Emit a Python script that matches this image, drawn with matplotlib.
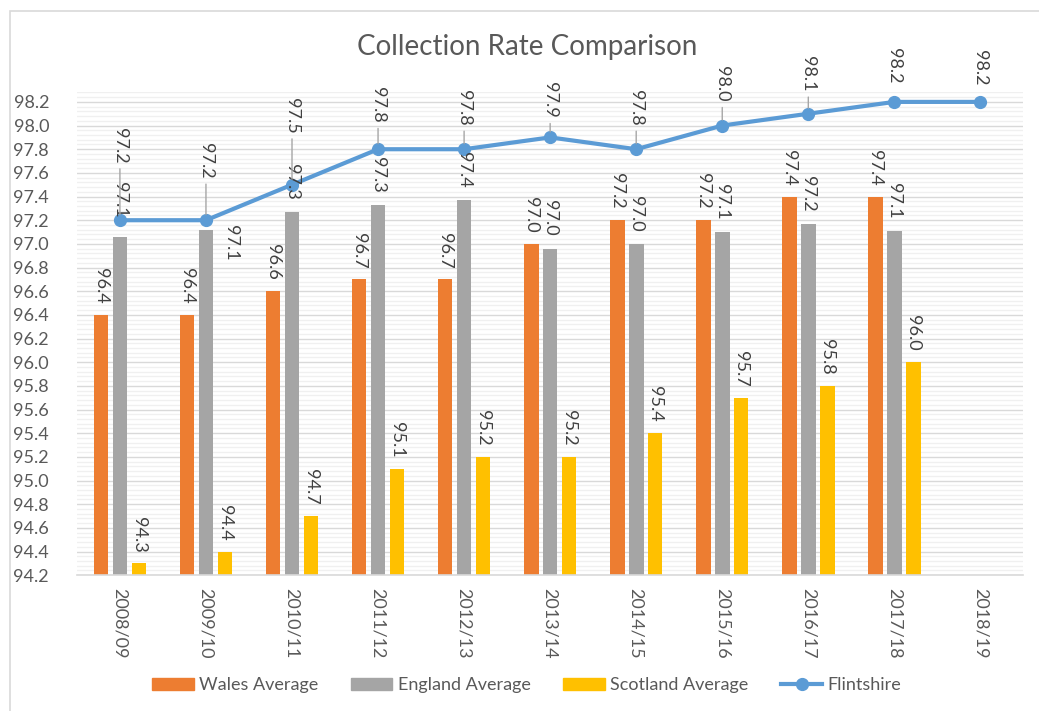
import matplotlib.pyplot as plt
import numpy as np
from matplotlib.lines import Line2D
from matplotlib.patches import Patch, Rectangle

plt.rcParams['font.family'] = ['Lato', 'DejaVu Sans']

years = ['2008/09', '2009/10', '2010/11', '2011/12', '2012/13', '2013/14',
         '2014/15', '2015/16', '2016/17', '2017/18', '2018/19']
wales = [96.4, 96.4, 96.6, 96.7, 96.7, 97.0, 97.2, 97.2, 97.4, 97.4, None]
england = [97.06, 97.12, 97.27, 97.33, 97.37, 96.96, 97.0, 97.1, 97.17, 97.11, None]
scotland = [94.3, 94.4, 94.7, 95.1, 95.2, 95.2, 95.4, 95.7, 95.8, 96.0, None]
flintshire = [97.2, 97.2, 97.5, 97.8, 97.8, 97.9, 97.8, 98.0, 98.1, 98.2, 98.2]

# label offsets (points) - where Excel had the labels dragged around
flint_gap = [41, 30, 37, 19, 17, 14, 17, 17, 16, 13, 12]
eng_off = [(0, 14), (18, -22), (0, 9), (0, 9), (0, 9), (0, 9), (0, 9), (0, 9), (0, 9), (0, 9), (0, 9)]

c_wales = '#ED7D31'
c_eng = '#A5A5A5'
c_scot = '#FFC000'
c_flint = '#5B9BD5'
txt = '#595959'

fig = plt.figure(figsize=(10.39, 7.11), dpi=100)
ax = fig.add_axes([0.074, 0.191, 0.911, 0.679])

x = np.arange(len(years))
w = 0.17
ymin = 94.2

for vals, off, col in [(wales, -0.22, c_wales), (england, 0, c_eng), (scotland, 0.22, c_scot)]:
    xs = [xi + off for xi, v in zip(x, vals) if v is not None]
    vs = [v for v in vals if v is not None]
    ax.bar(xs, [v - ymin for v in vs], w, bottom=ymin, color=col, zorder=2)

ax.plot(x, flintshire, color=c_flint, lw=3, marker='o', ms=8.5, zorder=3, solid_capstyle='round')

for i, v in enumerate(wales):
    if v is None:
        continue
    ax.annotate(f'{v:.1f}', (x[i] - 0.22, v), xytext=(0, 8), textcoords='offset points',
                rotation=-90, ha='center', va='bottom', fontsize=13, color='#404040', zorder=5)
    ax.annotate(f'{scotland[i]:.1f}', (x[i] + 0.22, scotland[i]), xytext=(0, 8), textcoords='offset points',
                rotation=-90, ha='center', va='bottom', fontsize=13, color='#404040', zorder=5)
    dx, dy = eng_off[i]
    ax.annotate(f'{england[i]:.1f}', (x[i], england[i]), xytext=(dx, dy), textcoords='offset points',
                rotation=-90, ha='center', va='bottom', fontsize=13, color='#404040', zorder=5)

for i, v in enumerate(flintshire):
    ap = None
    if flint_gap[i] > 13:
        ap = dict(arrowstyle='-', color='#A6A6A6', lw=1, shrinkA=2, shrinkB=4)
    ax.annotate(f'{v:.1f}', (x[i], v), xytext=(0, flint_gap[i]), textcoords='offset points',
                rotation=-90, ha='center', va='bottom', fontsize=13, color='#404040',
                arrowprops=ap, zorder=5)

ax.set_xlim(-0.5, len(years) - 0.5)
ax.set_ylim(ymin, 98.28)
ax.set_yticks(np.arange(94.2, 98.21, 0.2))
ax.set_yticklabels([f'{t:.1f}' for t in np.arange(94.2, 98.21, 0.2)])
ax.set_yticks(np.arange(94.2, 98.29, 0.04), minor=True)
ax.set_xticks(x)
ax.set_xticklabels(years, rotation=-90)
ax.tick_params(axis='both', length=0, colors=txt, labelsize=13)
ax.tick_params(axis='y', which='minor', length=0)
ax.tick_params(axis='x', pad=9)
ax.tick_params(axis='y', pad=20)
ax.grid(axis='y', which='major', color='#D9D9D9', lw=1, zorder=0)
ax.grid(axis='y', which='minor', color='#F0F0F0', lw=1, zorder=0)
ax.set_axisbelow(True)
for s in ['top', 'right', 'left']:
    ax.spines[s].set_visible(False)
ax.spines['bottom'].set_color('#D9D9D9')
ax.spines['bottom'].set_linewidth(1.2)

fig.text(0.507, 0.934, 'Collection Rate Comparison', ha='center', va='center', fontsize=20, color=txt)

handles = [Patch(color=c_wales), Patch(color=c_eng), Patch(color=c_scot),
           Line2D([], [], color=c_flint, lw=3, marker='o', ms=8.5)]
fig.legend(handles, ['Wales Average', 'England Average', 'Scotland Average', 'Flintshire'],
           loc='center', bbox_to_anchor=(0.507, 0.036), ncol=4, frameon=False,
           fontsize=13, labelcolor=txt, handlelength=2.3, handleheight=0.7,
           handletextpad=0.3, columnspacing=1.8)

fig.patches.append(Rectangle((10 / 1039, -0.01), 1.0, 1 - 11 / 711 + 0.01, transform=fig.transFigure,
                             fill=False, edgecolor='#D9D9D9', lw=1.2))

fig.savefig('out.png', dpi=100)
